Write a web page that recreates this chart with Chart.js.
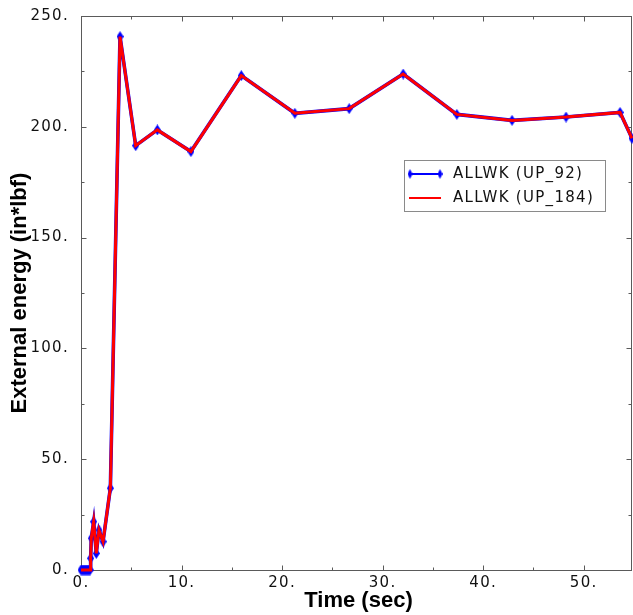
<!DOCTYPE html>
<html lang="en">
<head>
<meta charset="UTF-8">
<title>External energy</title>
<script src="https://cdn.jsdelivr.net/npm/chart.js@4"></script>
<style>
  html, body { margin: 0; padding: 0; background: #fff; }
  #wrap { width: 633px; height: 615px; }
</style>
</head>
<body>
<div id="wrap"><canvas id="energyChart" width="633" height="615"></canvas></div>
<script>
// Time history of external work for the two reference nodes
const timeSec = [0, 0.1, 0.2, 0.3, 0.4, 0.5, 0.6, 0.7, 0.8, 0.9, 0.96, 1.02, 1.26, 1.52, 1.79, 2.19,
                 2.92, 3.88, 5.44, 7.59, 10.93, 15.94, 21.27, 26.67, 32.04, 37.38, 42.87, 48.24, 53.61, 54.8];
const allwkUp92 = [0, 0, 0, 0, 0, 0, 0, 0, 0, 0, 5.3, 14.3, 21.8, 7.5, 18.0, 12.8,
                   36.9, 240.7, 191.5, 198.6, 188.8, 223.1, 206.1, 208.2, 223.8, 205.6, 202.9, 204.4, 206.5, 194.8];
const allwkUp184 = [0, 0, 0, 0, 0, 0, 0, 0, 0, 0, 5.3, 14.3, 21.8, 7.5, 18.0, 12.8,
                    36.9, 240.7, 191.5, 198.6, 188.8, 223.1, 206.1, 208.2, 223.8, 205.6, 202.9, 204.4, 206.5, 194.8];
const seriesLabels = ['ALLWK (UP_92)', 'ALLWK (UP_184)'];
const xTitle = 'Time (sec)';
const yTitle = 'External energy (in*lbf)';
const yMin = 0, yMax = 250;
const xMajor = 10, yMajor = 50;

const BLUE = '#0000ff';
const RED = '#ff0000';
const FRAME = '#5a5a5a';
const TICK_FONT = '15px "DejaVu Sans", sans-serif';
const TITLE_FONT = 'bold 22px "Liberation Sans", Arial, sans-serif';

// thin vertical diamond used as the point marker
function diamondMarker(w, h, color) {
    const c = document.createElement('canvas');
    c.width = w;
    c.height = h;
    const g = c.getContext('2d');
    g.fillStyle = color;
    g.beginPath();
    g.moveTo(w / 2, 0);
    g.lineTo(w, h / 2);
    g.lineTo(w / 2, h);
    g.lineTo(0, h / 2);
    g.closePath();
    g.fill();
    return c;
}
const marker = diamondMarker(7, 11, BLUE);
const legendMarker = diamondMarker(5, 10, BLUE);

function toPoints(xs, ys) {
    return xs.map((x, i) => ({ x: x, y: ys[i] }));
}

// box frame with inward ticks on all four sides, legend and axis titles
const framePlugin = {
    id: 'frame',
    beforeDraw(chart) {
        chart.ctx.letterSpacing = '1.3px';
    },
    beforeDatasetsDraw(chart) {
        const { ctx, chartArea: a, scales: { x, y } } = chart;
        const L = Math.round(a.left) + 0.5, R = Math.round(a.right) - 0.5;
        const T = Math.round(a.top) + 0.5, B = Math.round(a.bottom) + 0.5;
        ctx.save();
        ctx.strokeStyle = FRAME;
        ctx.lineWidth = 1;
        ctx.strokeRect(L, T, R - L, B - T);
        ctx.beginPath();
        for (let v = x.min; v <= x.max + 1e-9; v += xMajor / 2) {
            const len = (Math.round(v) % xMajor === 0) ? 5 : 3;
            const px = Math.round(x.getPixelForValue(v)) + 0.5;
            ctx.moveTo(px, B); ctx.lineTo(px, B - len);
            ctx.moveTo(px, T); ctx.lineTo(px, T + len);
        }
        for (let v = yMin; v <= yMax; v += yMajor / 2) {
            const len = (v % yMajor === 0) ? 5 : 3;
            const py = Math.round(y.getPixelForValue(v)) + 0.5;
            ctx.moveTo(L, py); ctx.lineTo(L + len, py);
            ctx.moveTo(R, py); ctx.lineTo(R - len, py);
        }
        ctx.stroke();
        ctx.restore();
    },
    afterDraw(chart) {
        const { ctx, chartArea: a } = chart;
        ctx.save();

        // legend
        const bx = 404.5, by = 160.5, bw = 201, bh = 51;
        ctx.fillStyle = '#fff';
        ctx.fillRect(bx, by, bw, bh);
        ctx.strokeStyle = '#8a8a8a';
        ctx.lineWidth = 1;
        ctx.strokeRect(bx, by, bw, bh);
        const rows = [174, 198];
        ctx.lineWidth = 2;
        ctx.strokeStyle = BLUE;
        ctx.beginPath(); ctx.moveTo(410, rows[0]); ctx.lineTo(440, rows[0]); ctx.stroke();
        ctx.drawImage(legendMarker, 410 - 2.5, rows[0] - 5);
        ctx.drawImage(legendMarker, 440 - 2.5, rows[0] - 5);
        ctx.strokeStyle = RED;
        ctx.beginPath(); ctx.moveTo(409, rows[1]); ctx.lineTo(441, rows[1]); ctx.stroke();
        ctx.fillStyle = '#111';
        ctx.font = TICK_FONT;
        ctx.letterSpacing = '1.3px';
        ctx.textAlign = 'left';
        ctx.textBaseline = 'middle';
        ctx.fillText(seriesLabels[0], 453, rows[0] + 0.5);
        ctx.fillText(seriesLabels[1], 453, rows[1] + 0.5);

        // axis titles
        ctx.letterSpacing = '0px';
        ctx.font = TITLE_FONT;
        ctx.fillStyle = '#000';
        ctx.textAlign = 'center';
        ctx.fillText(xTitle, (a.left + a.right) / 2 + 2, 601);
        ctx.translate(20, (a.top + a.bottom) / 2);
        ctx.rotate(-Math.PI / 2);
        ctx.fillText(yTitle, 0, 0);
        ctx.restore();
    }
};

const chart = new Chart(document.getElementById('energyChart').getContext('2d'), {
    type: 'line',
    data: {
        datasets: [{
            label: seriesLabels[0],
            data: toPoints(timeSec, allwkUp92),
            borderColor: BLUE,
            backgroundColor: BLUE,
            borderWidth: 3.6,
            pointStyle: marker,
            pointRadius: 5,
            tension: 0,
            clip: false,
            order: 1
        }, {
            label: seriesLabels[1],
            data: toPoints(timeSec, allwkUp184),
            borderColor: RED,
            backgroundColor: RED,
            borderWidth: 3,
            pointRadius: 0,
            tension: 0,
            clip: false,
            order: 0
        }]
    },
    options: {
        responsive: false,
        animation: false,
        layout: { autoPadding: false, padding: { top: 16, right: 1, left: 0, bottom: 0 } },
        plugins: {
            legend: { display: false },
            tooltip: { enabled: false }
        },
        scales: {
            x: {
                type: 'linear',
                min: 0,
                max: timeSec[timeSec.length - 1],
                grid: { display: false },
                border: { display: false },
                ticks: {
                    stepSize: xMajor,
                    includeBounds: false,
                    padding: -4,
                    color: '#111',
                    font: { family: '"DejaVu Sans", sans-serif', size: 15 },
                    callback: v => v + '.'
                },
                afterFit: s => { s.height = 45; }
            },
            y: {
                min: yMin,
                max: yMax,
                grid: { display: false },
                border: { display: false },
                ticks: {
                    stepSize: yMajor,
                    padding: 4,
                    color: '#111',
                    font: { family: '"DejaVu Sans", sans-serif', size: 15 },
                    callback: v => v + '.'
                },
                afterFit: s => { s.width = 81; }
            }
        }
    },
    plugins: [framePlugin]
});
</script>
</body>
</html>
